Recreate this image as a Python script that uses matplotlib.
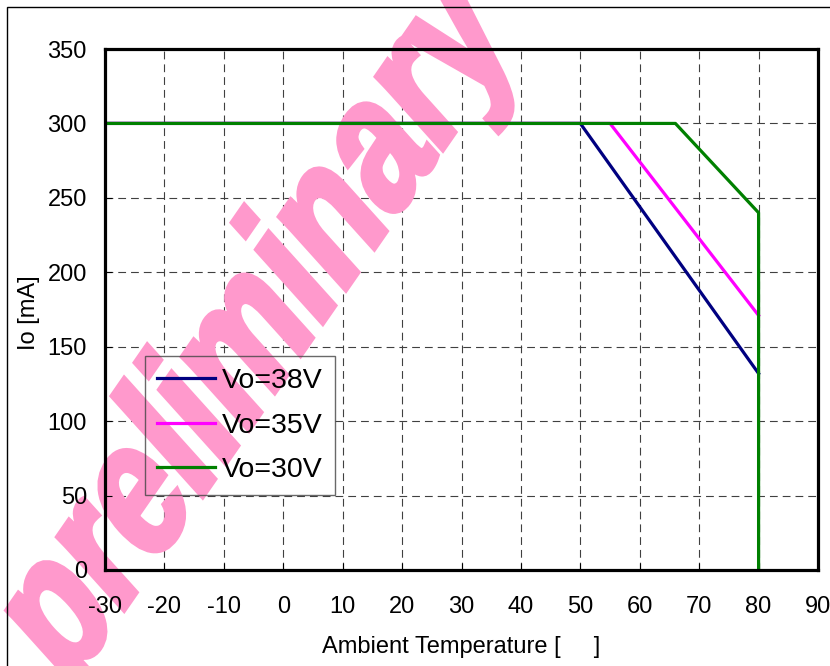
import numpy as np
import matplotlib
matplotlib.use("Agg")
import matplotlib.pyplot as plt
from matplotlib.patches import Rectangle, PathPatch
from matplotlib.textpath import TextPath
from matplotlib.font_manager import FontProperties
from matplotlib.transforms import Affine2D

# derating curves: ambient temperature [C] vs output current [mA]
temp_38v = [-30, 50, 80]
io_38v = [300, 300, 132]
temp_35v = [-30, 55, 80]
io_35v = [300, 300, 171]
temp_30v = [-30, 66, 80, 80]
io_30v = [300, 300, 240, 0]

labels = ["Vo=38V", "Vo=35V", "Vo=30V"]
colors = ["#000080", "#ff00ff", "#008000"]
x_ticks = list(range(-30, 91, 10))
y_ticks = list(range(0, 351, 50))

plt.rcParams["font.family"] = ["Liberation Sans", "DejaVu Sans"]
plt.rcParams["axes.unicode_minus"] = False

W, H = 830, 666
fig = plt.figure(figsize=(W / 100, H / 100), dpi=100)
fig.patch.set_facecolor("white")

# thin outer frame of the picture
fig.patches.append(Rectangle((7 / W, -0.1), 1.2, 1 - 7 / H + 0.1,
                             transform=fig.transFigure, fill=False,
                             edgecolor="black", linewidth=1.0, zorder=5))

ax = fig.add_axes([105 / W, 1 - 570 / H, 713 / W, 521 / H])
ax.patch.set_alpha(0)

# dashed grid drawn by hand so the watermark can sit above it
for x in x_ticks:
    ax.axvline(x, color="#404040", lw=0.8, ls=(0, (7, 4.5)), zorder=0.5)
for y in y_ticks:
    ax.axhline(y, color="#404040", lw=0.8, ls=(0, (7, 4.5)), zorder=0.5)

# skewed "preliminary" watermark (pixel coordinates)
tp = TextPath((0, 0), "preliminary", size=1,
              prop=FontProperties(family="Liberation Sans", weight="bold"))
ext = tp.get_extents()
cu, cv = (ext.x0 + ext.x1) / 2, (ext.y0 + ext.y1) / 2
a, b = 146, 185
t1, t2 = np.radians(55.3), np.radians(132)
cx, cy = 262, 328
m = Affine2D().translate(-cu, -cv)
m = m + Affine2D(np.array([[a * np.cos(t1), b * np.cos(t2), cx],
                           [a * np.sin(t1), b * np.sin(t2), H - cy],
                           [0, 0, 1]]))
wm = PathPatch(tp, facecolor="#ff99cc", edgecolor="#ff99cc", linewidth=4.5,
               joinstyle="miter", transform=m, clip_on=False, zorder=1)
ax.add_patch(wm)

ax.plot(temp_38v, io_38v, color=colors[0], lw=2.3, label=labels[0], zorder=2)
ax.plot(temp_35v, io_35v, color=colors[1], lw=2.3, label=labels[1], zorder=2)
ax.plot(temp_30v, io_30v, color=colors[2], lw=2.3, label=labels[2], zorder=2)

ax.set_xlim(-30, 90)
ax.set_ylim(0, 350)
ax.set_xticks(x_ticks)
ax.set_yticks(y_ticks)
ax.tick_params(direction="in", length=5, labelsize=17, colors="black")
ax.tick_params(axis="x", pad=19)
ax.tick_params(axis="y", pad=13)
for s in ax.spines.values():
    s.set_linewidth(2.3)

ax.set_xlabel("Ambient Temperature [     ]", fontsize=17)
ax.set_ylabel("Io [mA]", fontsize=17)
ax.xaxis.set_label_coords(0.5, -0.126)
ax.yaxis.set_label_coords(-0.091, 0.493)

leg = ax.legend(loc="upper left", bbox_to_anchor=(0.056, 0.411),
                borderaxespad=0, fontsize=20.5, handlelength=2.05,
                handletextpad=0.25, labelspacing=0.66, borderpad=0.42,
                fancybox=False, facecolor="none", edgecolor="#444444")
leg.get_frame().set_linewidth(1.0)
leg.set_zorder(5)

# white legend background under the watermark
fig.canvas.draw()
bb = leg.get_frame().get_window_extent().transformed(ax.transAxes.inverted())
ax.add_patch(Rectangle((bb.x0, bb.y0), bb.width, bb.height,
                       transform=ax.transAxes, facecolor="white",
                       edgecolor="none", zorder=0.8))

plt.savefig("out.png", dpi=100)
